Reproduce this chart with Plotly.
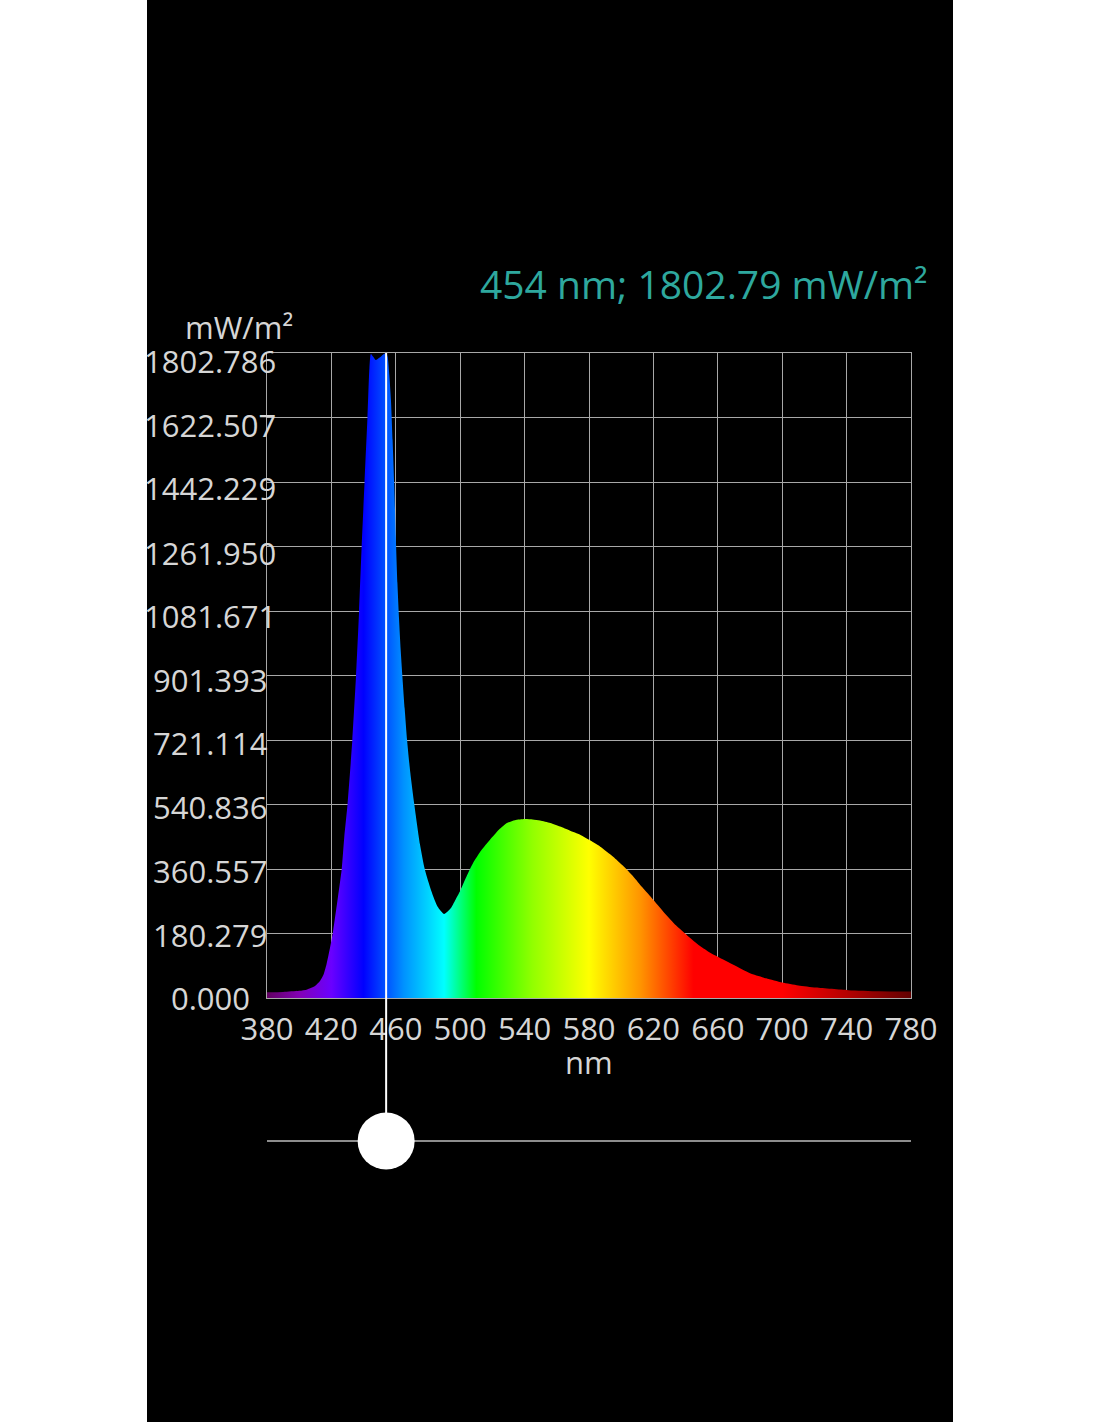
import plotly.graph_objects as go

# ---- data ----
wavelength_nm = [380, 390, 400, 405, 410, 413, 415, 417, 420, 421, 424, 426.4, 428, 430, 433,
                 435.3, 437.2, 438.8, 440.6, 442.4, 443.6, 444.5, 446, 447.5, 450, 452, 454,
                 455, 456, 457, 458, 459, 460, 461, 462, 463, 464, 465.5, 467, 469, 471.5,
                 475, 478, 482, 486, 490, 494, 497, 500, 504, 508, 513, 518.5, 524, 529, 534,
                 540, 545, 549.6, 556, 562, 568, 574.5, 580, 587, 595, 601, 607.6, 613, 620,
                 628, 634, 641, 649, 655, 660, 670, 680, 690, 700, 710, 721, 741, 760, 780]
irradiance = [16, 17, 20, 24, 34, 48, 64, 95, 160, 185, 280, 360, 450, 540, 721,
              900, 1082, 1262, 1442, 1622, 1760, 1800, 1792, 1783, 1790, 1798, 1802.786,
              1790, 1740, 1670, 1560, 1442, 1290, 1160, 1060, 975, 905, 810, 721, 630, 541,
              430, 360, 300, 255, 235, 250, 274, 300, 340, 377, 412, 442, 470, 489, 497,
              500, 499, 496, 489, 479, 468, 456, 442, 423, 395, 370, 339, 310, 274,
              232, 203, 175, 145, 127, 115, 92, 69, 55, 43, 35, 29, 22, 19, 18]

x_ticks = [380, 420, 460, 500, 540, 580, 620, 660, 700, 740, 780]
y_ticks = [0.000, 180.279, 360.557, 540.836, 721.114, 901.393, 1081.671,
           1261.950, 1442.229, 1622.507, 1802.786]
y_tick_labels = ["0.000", "180.279", "360.557", "540.836", "721.114", "901.393",
                 "1081.671", "1261.950", "1442.229", "1622.507", "1802.786"]

cursor_nm = 454
cursor_value = 1802.79
unit_y = "mW/m²"
unit_x = "nm"

# spectrum colour stops (wavelength, colour)
spec_stops_nm = [380, 400, 420, 440, 465, 490, 510, 545, 580, 612, 645, 700, 740, 780]
spec_colors = ["#610061", "#8300b5", "#6a00ff", "#0000ff", "#0092ff", "#00ffff", "#00ff00",
               "#92ff00", "#ffff00", "#ff9400", "#ff0000", "#ff0000", "#b50000", "#610000"]

# ---- figure ----
x_min, x_max = x_ticks[0], x_ticks[-1]
colorscale = [[(w - x_min) / (x_max - x_min), c] for w, c in zip(spec_stops_nm, spec_colors)]

fig = go.Figure()
fig.add_trace(go.Scatter(
    x=wavelength_nm, y=irradiance, mode="lines",
    line=dict(width=0, shape="spline", smoothing=0.6),
    fill="tozeroy",
    fillgradient=dict(type="horizontal", colorscale=colorscale, start=x_min, stop=x_max),
    hoverinfo="skip", showlegend=False,
))

W, H = 1100, 1422
L, R, T, B = 267, 189, 353, 424
pw, ph = W - L - R, H - T - B

def px_to_paper_x(px):
    return (px - L) / pw

def py_to_paper_y(py):
    return (H - B - py) / ph

grid = "#a8a8a8"
txt = "#d6d6d6"
font = "Open Sans"
fs = 31

fig.update_layout(
    width=W, height=H,
    margin=dict(l=L, r=R, t=T, b=B, pad=0),
    paper_bgcolor="black", plot_bgcolor="black",
    font=dict(family=font, color=txt, size=fs),
    showlegend=False,
    xaxis=dict(range=[x_min, x_max], tickvals=x_ticks, ticktext=[str(v) for v in x_ticks],
               showgrid=True, gridcolor=grid, gridwidth=1, zeroline=False,
               showline=True, linecolor=grid, linewidth=1, mirror=True,
               ticks="", ticklabelstandoff=4, tickfont=dict(size=fs, color=txt, family=font)),
    yaxis=dict(range=[y_ticks[0], y_ticks[-1]], tickvals=y_ticks,
               showgrid=True, gridcolor=grid, gridwidth=1, zeroline=False,
               showline=True, linecolor=grid, linewidth=1, mirror=True,
               showticklabels=False, ticks=""),
)

annotations = []
for i, (v, lab) in enumerate(zip(y_ticks, y_tick_labels)):
    annotations.append(dict(x=px_to_paper_x(210), xref="paper", y=v, yref="y",
                            text=lab, showarrow=False, xanchor="center", yanchor="middle",
                            yshift=-round(0.8 * i), font=dict(size=fs, color=txt, family=font)))
annotations.append(dict(x=px_to_paper_x(239), xref="paper", y=py_to_paper_y(327), yref="paper",
                        text=unit_y, showarrow=False, xanchor="center", yanchor="middle",
                        font=dict(size=fs, color=txt, family=font)))
annotations.append(dict(x=0.5, xref="paper", y=py_to_paper_y(1062), yref="paper",
                        text=unit_x, showarrow=False, xanchor="center", yanchor="middle",
                        font=dict(size=fs, color=txt, family=font)))
annotations.append(dict(x=px_to_paper_x(930), xref="paper", y=py_to_paper_y(283), yref="paper",
                        text=f"{cursor_nm} nm; {cursor_value:.2f} {unit_y}", showarrow=False,
                        xanchor="right", yanchor="middle",
                        font=dict(size=39, color="#2ea89e", family=font)))
fig.update_layout(annotations=annotations)

slider_y = py_to_paper_y(1141)
shapes = [
    # slider track
    dict(type="line", xref="x", yref="paper", x0=x_min, x1=x_max, y0=slider_y, y1=slider_y,
         line=dict(color="#bdbdbd", width=1.5), layer="above"),
    # cursor line
    dict(type="line", xref="x", yref="paper", x0=cursor_nm, x1=cursor_nm, y0=1, y1=slider_y,
         line=dict(color="white", width=2), layer="above"),
    # slider knob
    dict(type="circle", xref="x", yref="paper", xsizemode="pixel", ysizemode="pixel",
         xanchor=cursor_nm, yanchor=slider_y, x0=-28.5, x1=28.5, y0=-28.5, y1=28.5,
         fillcolor="white", line=dict(color="white", width=0), layer="above"),
    # white side margins
    dict(type="rect", xref="paper", yref="paper", x0=px_to_paper_x(-5), x1=px_to_paper_x(147),
         y0=-2, y1=3, fillcolor="white", line=dict(width=0), layer="above"),
    dict(type="rect", xref="paper", yref="paper", x0=px_to_paper_x(953), x1=px_to_paper_x(W + 5),
         y0=-2, y1=3, fillcolor="white", line=dict(width=0), layer="above"),
]
fig.update_layout(shapes=shapes)

fig.write_html("out.html", config={"displayModeBar": False},
               post_script="document.body.style.margin='0';document.body.style.padding='0';")
